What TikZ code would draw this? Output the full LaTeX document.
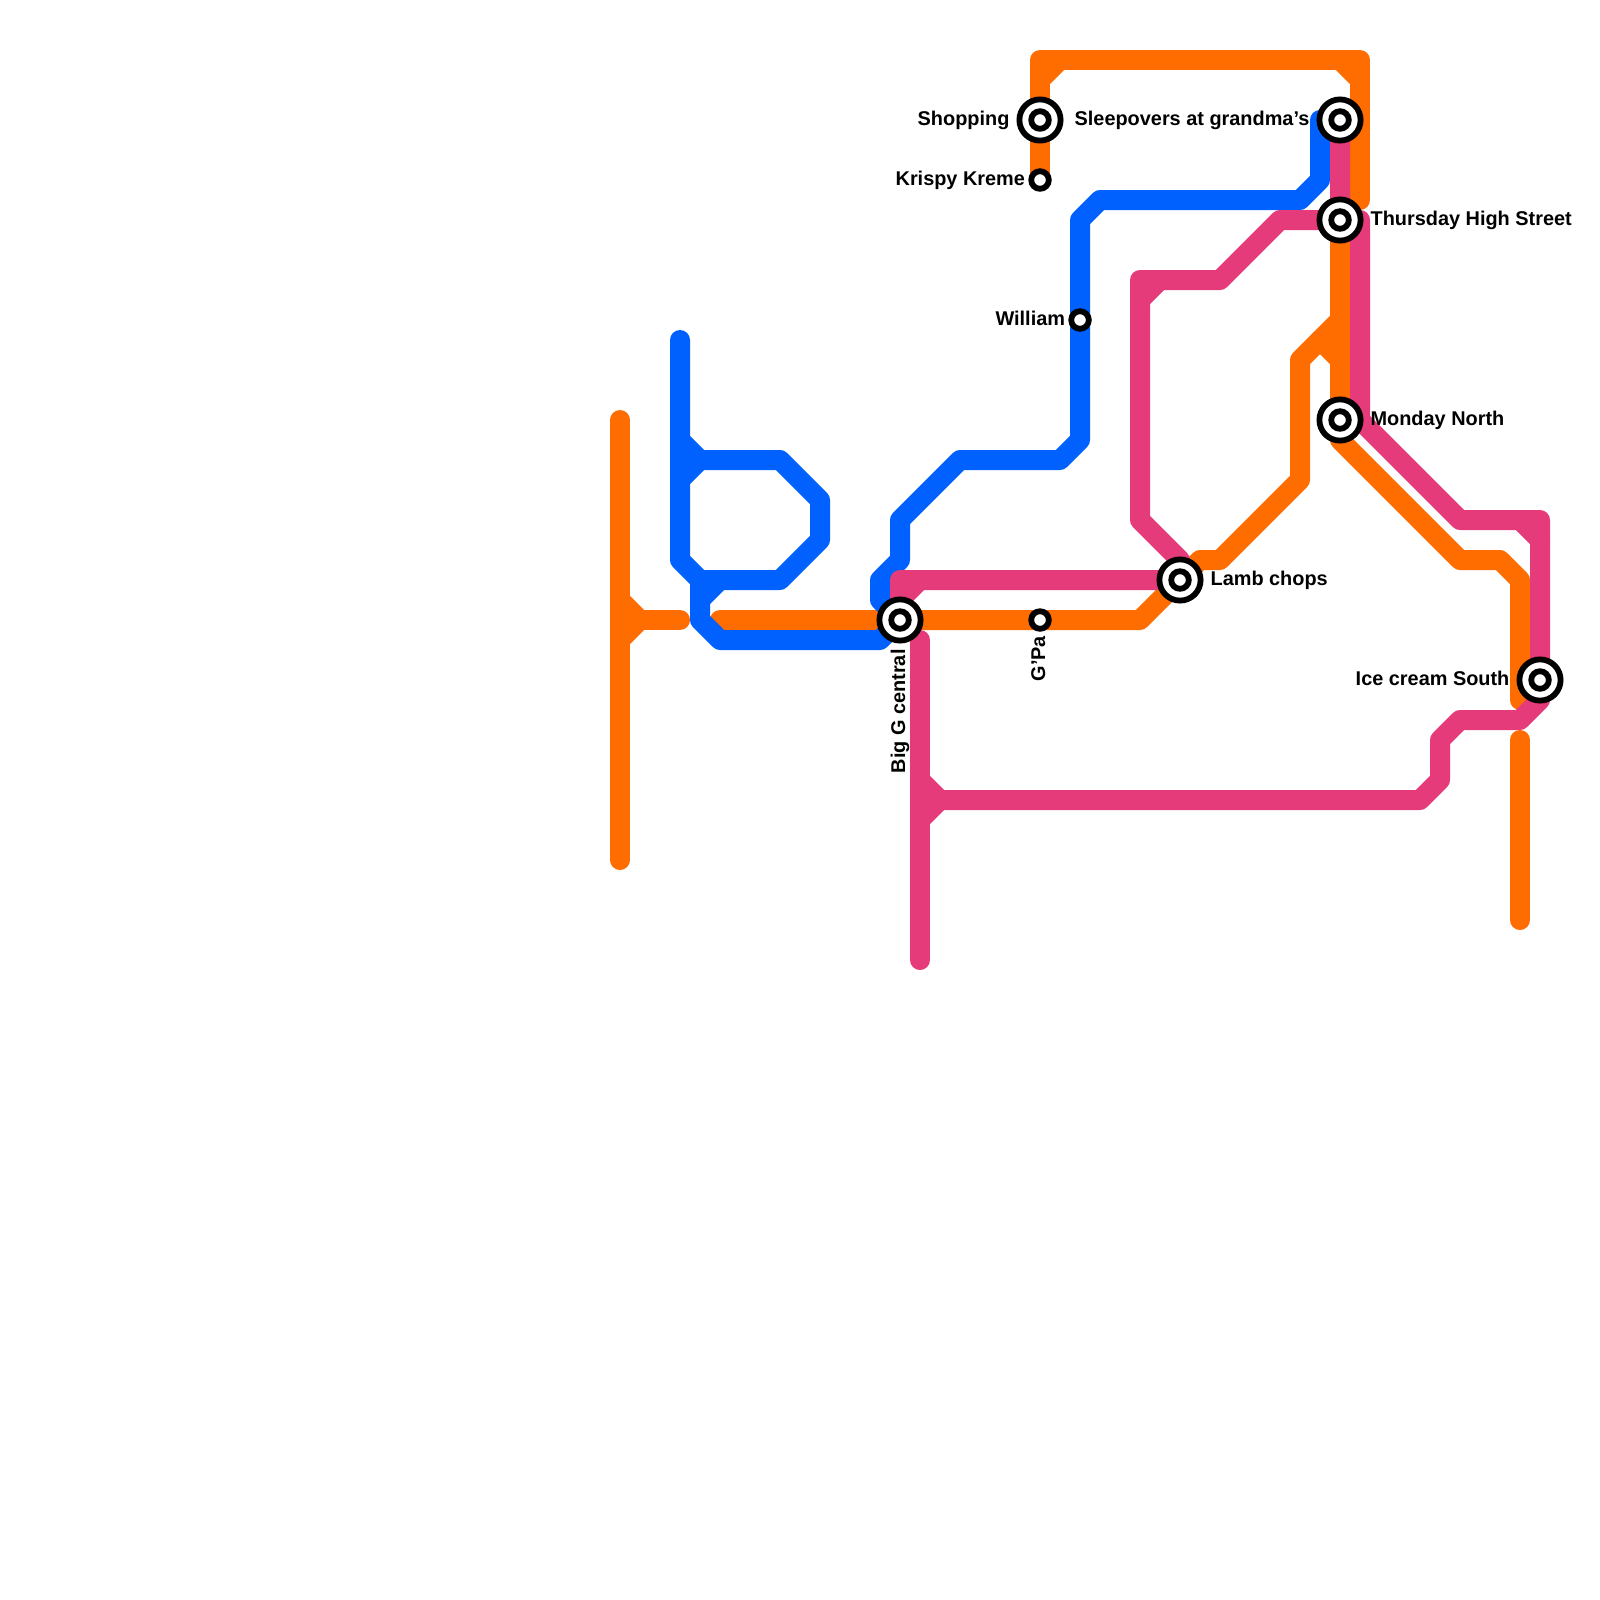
\documentclass[tikz,border=0pt]{standalone}
\usepackage{fontspec}
\setmainfont{Liberation Sans}
\usetikzlibrary{positioning,backgrounds}
\definecolor{lineorange}{HTML}{FF6C00}
\definecolor{lineblue}{HTML}{0061FE}
\definecolor{linepink}{HTML}{E63B7A}
\tikzset{
  metroline/.style={line width=1cm, line join=round, line cap=round},
  stopdot/.style={circle, draw=black, fill=white, line width=0.29cm, minimum size=0.88cm, inner sep=0pt, outer sep=0pt},
  stopring/.style={circle, draw=black, fill=white, line width=0.29cm, minimum size=2.06cm, inner sep=0pt, outer sep=0pt},
  stoplabel/.style={inner sep=0pt, outer sep=0pt, text height=0.75cm, text depth=0.25cm, font=\bfseries\fontsize{28.3}{29}\selectfont},
}

\begin{document}
\begin{tikzpicture}[x=1cm, y=-1cm]
  \useasboundingbox (0,0) rectangle (80,80);

  % Interchanges and plain stops
  \foreach \stname/\stx/\sty in {shopping/52/6, sleepovers/67/6, thursday/67/11, monday/67/21, lamb/59/29, bigg/45/31, icecream/77/34} {
    \node[stopring] (\stname ring) at (\stx,\sty) {};
    \node[stopdot]  (\stname) at (\stx,\sty) {};
  }
  \foreach \stname/\stx/\sty in {krispy/52/9, william/54/16, gpa/52/31} {
    \node[stopdot] (\stname) at (\stx,\sty) {};
  }

  % Labels
  \node[stoplabel, left=0.5cm of shoppingring]    (shoppinglabel)   {Shopping};
  \node[stoplabel, left=0.5cm of sleepoversring]  (sleepoverslabel) {Sleepovers at grandma’s};
  \node[stoplabel, right=0.5cm of thursdayring]   (thursdaylabel)   {Thursday High Street};
  \node[stoplabel, right=0.5cm of mondayring]     (mondaylabel)     {Monday North};
  \node[stoplabel, right=0.5cm of lambring]       (lamblabel)       {Lamb chops};
  \node[stoplabel, left=0.5cm of icecreamring]    (icecreamlabel)   {Ice cream South};
  \node[stoplabel, left=0.31cm of krispy]         (krispylabel)     {Krispy Kreme};
  \node[stoplabel, left=0.31cm of william]        (williamlabel)    {William};
  \node[stoplabel, rotate=90, anchor=east] (gpalabel)  at ([yshift=-0.36cm]gpa.south)      {G’Pa};
  \node[stoplabel, rotate=90, anchor=east] (bigglabel) at ([yshift=-0.44cm]biggring.south) {Big G central};

  \begin{scope}[on background layer]
    % Orange
    \draw[metroline, lineorange] (31,21) -- (31,43);
    \draw[metroline, lineorange] (31,30) -- (32,31) -- (31,32);
    \draw[metroline, lineorange] (32,31) -- (34,31);
    \draw[metroline, lineorange] (36,31) -- (bigg.center) -- (gpa.center) -- (57,31) -- (lamb.center)
      -- (60,28) -- (61,28) -- (65,24) -- (65,18) -- (67,16);
    \draw[metroline, lineorange] (66,17) -- (67,18);
    \draw[metroline, lineorange] (thursday.center) -- (monday.center) -- (67,22) -- (73,28)
      -- (75,28) -- (76,29) -- (76,35);
    \draw[metroline, lineorange] (76,37) -- (76,46);
    \draw[metroline, lineorange] (krispy.center) -- (shopping.center) -- (52,3) -- (68,3) -- (68,10);
    \draw[metroline, lineorange] (52,4) -- (53,3);
    \draw[metroline, lineorange] (67,3) -- (68,4);

    % Blue
    \draw[metroline, lineblue] (34,17) -- (34,28) -- (35,29) -- (39,29) -- (41,27) -- (41,25)
      -- (39,23) -- (35,23) -- (34,22);
    \draw[metroline, lineblue] (34,24) -- (35,23);
    \draw[metroline, lineblue] (35,29) -- (35,31) -- (36,32) -- (44,32) -- (bigg.center);
    \draw[metroline, lineblue] (35,30) -- (36,29);
    \draw[metroline, lineblue] (bigg.center) -- (44,30) -- (44,29) -- (45,28) -- (45,26) -- (48,23)
      -- (53,23) -- (54,22) -- (william.center) -- (54,11) -- (55,10) -- (65,10) -- (66,9)
      -- (66,6) -- (sleepovers.center);

    % Pink
    \draw[metroline, linepink] (46,32) -- (46,48);
    \draw[metroline, linepink] (46,39) -- (47,40) -- (46,41);
    \draw[metroline, linepink] (47,40) -- (71,40) -- (72,39) -- (72,37) -- (73,36) -- (76,36)
      -- (77,35) -- (icecream.center) -- (77,26) -- (73,26) -- (68,21) -- (68,11) -- (thursday.center);
    \draw[metroline, linepink] (76,26) -- (77,27);
    \draw[metroline, linepink] (sleepovers.center) -- (thursday.center) -- (64,11) -- (61,14)
      -- (57,14) -- (57,26) -- (59,28) -- (lamb.center) -- (45,29) -- (bigg.center);
    \draw[metroline, linepink] (57,15) -- (58,14);
    \draw[metroline, linepink] (45,30) -- (46,29);
  \end{scope}
\end{tikzpicture}
\end{document}
